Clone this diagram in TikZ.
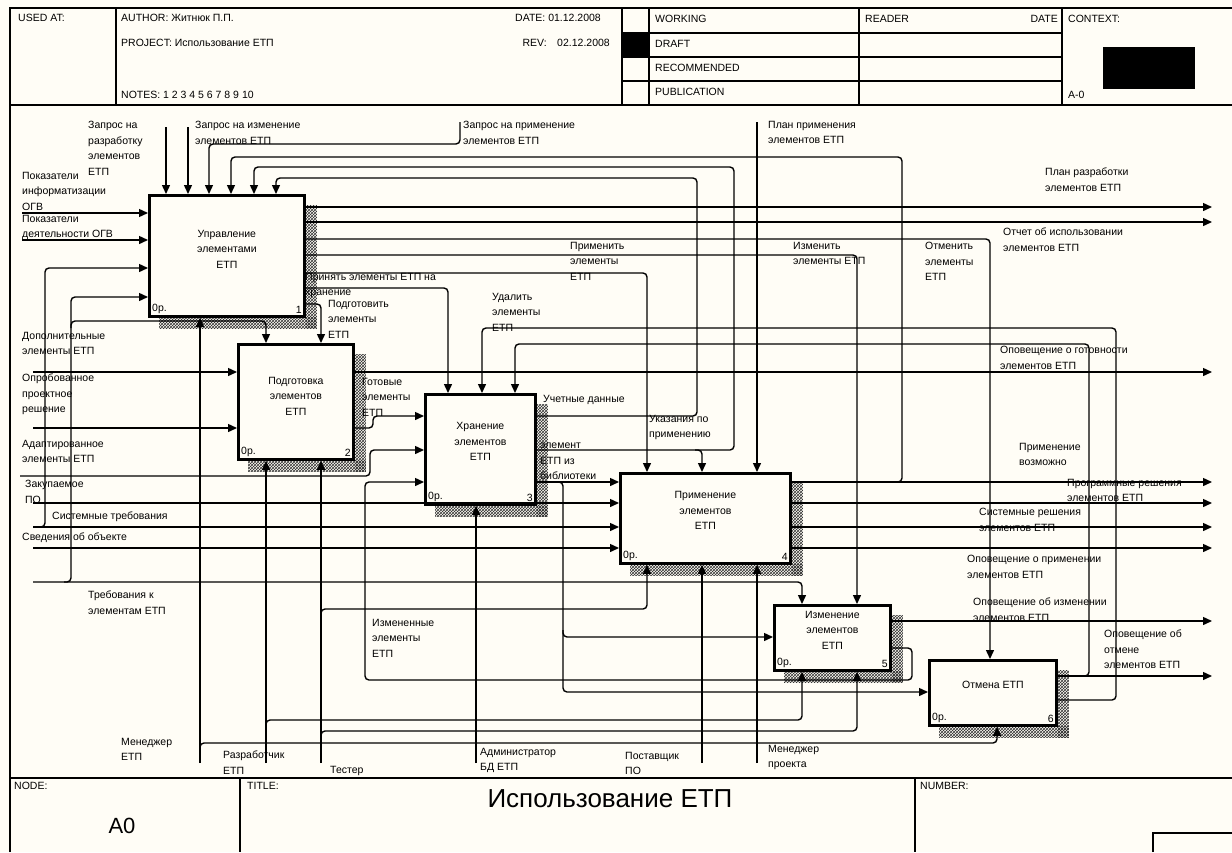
\documentclass[tikz,border=0pt]{standalone}
\usepackage{fontspec}
\setmainfont{Liberation Sans}
\usetikzlibrary{arrows.meta,patterns,calc,backgrounds}
\definecolor{sheet}{RGB}{255,253,246}
\newcommand\lblsize{\fontsize{10.5}{15.5}\selectfont}

\begin{document}
\begin{tikzpicture}[
  x=1pt, y=-1pt,
  >={Triangle[length=9pt,width=8pt]},
  func/.style={draw, line width=2.8pt, fill=sheet, anchor=north west, inner sep=0pt},
  functext/.style={align=center, inner sep=0pt, font=\lblsize},
  corner/.style={inner sep=4pt, font=\lblsize},
  lbl/.style={anchor=north west, align=left, inner sep=0pt, font=\lblsize},
  hdr/.style={anchor=west, inner sep=0pt, font=\fontsize{10.5}{12}\selectfont},
  frame/.style={line width=1.5pt},
  flow/.style={line width=1.4pt, rounded corners=4pt},
  arrow/.style={flow, ->},
  shade/.style={pattern=crosshatch, pattern color=black!80}
]
\useasboundingbox (0,0) rectangle (1232,852);

% form frame
\draw[frame] (10,852) -- (10,8) -- (1232,8);
\draw[frame] (10,105) -- (1232,105);
\draw[frame] (116,8) -- (116,105);
\draw[frame] (622,8) -- (622,105);
\draw[frame] (649,8) -- (649,105);
\draw[frame] (859,8) -- (859,105);
\draw[frame] (1062,8) -- (1062,105);
\foreach \yy in {33,57,81} \draw[frame] (622,\yy) -- (1062,\yy);
\fill (622,33) rectangle (649,57);
\fill (1103,47) rectangle (1195,89);
\draw[frame] (10,778) -- (1232,778);
\draw[frame] (240,778) -- (240,852);
\draw[frame] (915,778) -- (915,852);
\draw[frame] (1153,852) -- (1153,833) -- (1232,833);

\node[hdr] (usedat) at (18,18) {USED AT:};
\node[hdr] (author) at (121,18) {AUTHOR: Житнюк П.П.};
\node[hdr] (date) at (515,18) {DATE: 01.12.2008};
\node[hdr] (project) at (121,43) {PROJECT: Использование ЕТП};
\node[hdr, anchor=east] (rev) at (610,43) {REV:\quad 02.12.2008};
\node[hdr] (notes) at (121,95) {NOTES: 1 2 3 4 5 6 7 8 9 10};
\node[hdr] (working) at (655,19) {WORKING};
\node[hdr] (draft) at (655,44) {DRAFT};
\node[hdr] (recom) at (655,68) {RECOMMENDED};
\node[hdr] (public) at (655,92) {PUBLICATION};
\node[hdr] (reader) at (865,19) {READER};
\node[hdr, anchor=east] (rdate) at (1058,19) {DATE};
\node[hdr] (context) at (1068,19) {CONTEXT:};
\node[hdr] (ctxnode) at (1068,95) {A-0};
\node[hdr] (nodelbl) at (14,786) {NODE:};
\node[hdr] (titlelbl) at (247,786) {TITLE:};
\node[hdr] (numlbl) at (920,786) {NUMBER:};
\node[inner sep=0pt, font=\fontsize{22}{24}\selectfont] (nodeno) at (122,826) {A0};
\node[inner sep=0pt, font=\fontsize{26}{28}\selectfont] (title) at (610,799) {Использование ЕТП};

% activity boxes
\node[func, minimum width=155pt, minimum height=121pt] (b1) at (148,194) {};
\node[func, minimum width=115pt, minimum height=115pt] (b2) at (237,343) {};
\node[func, minimum width=110pt, minimum height=110pt] (b3) at (424,393) {};
\node[func, minimum width=170pt, minimum height=90pt] (b4) at (619,472) {};
\node[func, minimum width=116pt, minimum height=65pt] (b5) at (773,604) {};
\node[func, minimum width=127pt, minimum height=65pt] (b6) at (928,659) {};

\node[functext] (b1t) at ($(b1.center)+(0,-7)$) {Управление\\элементами\\ЕТП};
\node[functext] (b2t) at ($(b2.center)+(0,-6)$) {Подготовка\\элементов\\ЕТП};
\node[functext] (b3t) at ($(b3.center)+(0,-8)$) {Хранение\\элементов\\ЕТП};
\node[functext] (b4t) at ($(b4.center)+(0,-8)$) {Применение\\элементов\\ЕТП};
\node[functext] (b5t) at ($(b5.center)+(0,-8)$) {Изменение\\элементов\\ЕТП};
\node[functext] (b6t) at ($(b6.center)+(0,-8)$) {Отмена ЕТП};

\foreach \b/\n in {b1/1,b2/2,b3/3,b4/4,b5/5,b6/6}{
  \node[corner, anchor=south west] (\b o) at (\b.south west) {0р.};
  \node[corner, anchor=south east] (\b n) at (\b.south east) {\n};
}

\begin{scope}[on background layer]
  \fill[sheet] (0,0) rectangle (1232,852);
  \foreach \b in {b1,b2,b3,b4,b5,b6}{
    \fill[shade] ($(\b.north east)+(0,11)$) rectangle ($(\b.south east)+(11,11)$);
    \fill[shade] ($(\b.south west)+(11,0)$) rectangle ($(\b.south east)+(11,11)$);
  }
\end{scope}

% free ends of the boundary arrows
\foreach \n/\p in {c-req-dev/{166,127}, c-req-chg/{188,127}, c-req-use/{460,122}, c-plan-use/{757,122},
  i-inf/{22,213}, i-act/{22,240}, i-add/{33,372}, i-proj/{33,428}, i-adapt/{20,476},
  i-buy/{33,503}, i-sys/{33,527}, i-obj/{33,548}, i-req/{33,582},
  m-mgr/{200,763}, m-dev/{266,763}, m-test/{321,763}, m-dba/{476,763}, m-sup/{702,763}, m-pm/{757,763},
  o-plan/{1212,207}, o-rep/{1212,222}, o-ready/{1212,372}, o-ok/{1212,482}, o-prog/{1212,503},
  o-sysr/{1212,527}, o-use/{1212,548}, o-chg/{1212,621}, o-cancel/{1212,676}}
  \coordinate (\n) at (\p);

% controls
\draw[arrow] (c-req-dev) -- (c-req-dev |- b1.north);
\draw[arrow] (c-req-chg) -- (c-req-chg |- b1.north);
\draw[arrow] (c-req-use) -- (460,144) -- (209,144) -- (209,0 |- b1.north);
\draw[arrow] (c-plan-use) -- (c-plan-use |- b4.north);

% inputs
\draw[arrow] (i-inf) -- (b1.west |- i-inf);
\draw[arrow] (i-act) -- (b1.west |- i-act);
\draw[arrow] (i-add) -- (b2.west |- i-add);
\draw[arrow] (i-proj) -- (b2.west |- i-proj);
\draw[arrow] (i-adapt) -- (370,476) -- (370,450) -- (b3.west |- 0,450);
\draw[arrow] (i-buy) -- (b4.west |- i-buy);
\draw[arrow] (i-sys) -- (b4.west |- i-sys);
\draw[arrow] (38,527) -- (45,527) -- (45,268) -- (b1.west |- 0,268);
\draw[arrow] (i-obj) -- (b4.west |- i-obj);
\draw[arrow] (i-req) -- (802,582) -- (802,0 |- b5.north);
\draw[arrow] (64,582) -- (71,582) -- (71,297) -- (b1.west |- 0,297);
\draw[arrow] (71,328) -- (71,321) -- (266,321) -- (266,0 |- b2.north);

% mechanisms
\draw[arrow] (m-mgr) -- (m-mgr |- b1.south);
\draw[arrow] (200,750) -- (200,743) -- (997,743) -- (997,0 |- b6.south);
\draw[arrow] (m-dev) -- (m-dev |- b2.south);
\draw[arrow] (266,727) -- (266,720) -- (802,720) -- (802,0 |- b5.south);
\draw[arrow] (m-test) -- (m-test |- b2.south);
\draw[arrow] (321,616) -- (321,609) -- (647,609) -- (647,0 |- b4.south);
\draw[arrow] (321,738) -- (321,731) -- (857,731) -- (857,0 |- b5.south);
\draw[arrow] (m-dba) -- (m-dba |- b3.south);
\draw[arrow] (m-sup) -- (m-sup |- b4.south);
\draw[arrow] (m-pm) -- (m-pm |- b4.south);

% outputs of 1
\draw[arrow] (b1.east |- o-plan) -- (o-plan);
\draw[arrow] (b1.east |- o-rep) -- (o-rep);
\draw[arrow] (b1.east |- 0,239) -- (990,239) -- (990,0 |- b6.north);
\draw[arrow] (b1.east |- 0,255) -- (857,255) -- (857,0 |- b5.north);
\draw[arrow] (b1.east |- 0,273) -- (647,273) -- (647,0 |- b4.north);
\draw[arrow] (b1.east |- 0,288) -- (448,288) -- (448,0 |- b3.north);
\draw[arrow] (b1.east |- 0,304) -- (321,304) -- (321,0 |- b2.north);

% outputs of 2
\draw[arrow] (b2.east |- o-ready) -- (o-ready);
\draw[arrow] (b2.east |- 0,428) -- (373,428) -- (373,416) -- (b3.west |- 0,416);

% outputs of 3
\draw[arrow] (b3.east |- 0,416) -- (697,416) -- (697,178) -- (276,178) -- (276,0 |- b1.north);
\draw[arrow] (b3.east |- 0,450) -- (734,450) -- (734,167) -- (254,167) -- (254,0 |- b1.north);
\draw[arrow] (695,450) -- (702,450) -- (702,0 |- b4.north);
\draw[arrow] (b3.east |- 0,482) -- (b4.west |- 0,482);
\draw[arrow] (556,482) -- (563,482) -- (563,692) -- (b6.west |- 0,692);
\draw[arrow] (563,630) -- (563,637) -- (b5.west |- 0,637);

% outputs of 4
\draw[arrow] (b4.east |- o-ok) -- (o-ok);
\draw[arrow] (895,482) -- (902,482) -- (902,157) -- (231,157) -- (231,0 |- b1.north);
\draw[arrow] (b4.east |- o-prog) -- (o-prog);
\draw[arrow] (b4.east |- o-sysr) -- (o-sysr);
\draw[arrow] (b4.east |- o-use) -- (o-use);

% outputs of 5
\draw[arrow] (b5.east |- o-chg) -- (o-chg);
\draw[arrow] (b5.east |- 0,648) -- (912,648) -- (912,680) -- (365,680) -- (365,482) -- (b3.west |- 0,482);

% outputs of 6
\draw[arrow] (b6.east |- o-cancel) -- (o-cancel);
\draw[arrow] (1082,676) -- (1089,676) -- (1089,344) -- (515,344) -- (515,0 |- b3.north);
\draw[arrow] (b6.east |- 0,700) -- (1116,700) -- (1116,328) -- (482,328) -- (482,0 |- b3.north);

% arrow labels
\node[lbl] (l-req-dev) at (88,121) {Запрос на\\разработку\\элементов\\ЕТП};
\node[lbl] (l-req-chg) at (195,121) {Запрос на изменение\\элементов ЕТП};
\node[lbl] (l-req-use) at (463,121) {Запрос на применение\\элементов ЕТП};
\node[lbl] (l-plan-use) at (768,121) {План применения\\элементов ЕТП};
\node[lbl] (l-inf) at (22,172) {Показатели\\информатизации\\ОГВ};
\node[lbl] (l-act) at (22,215) {Показатели\\деятельности ОГВ};
\node[lbl] (l-plan) at (1045,168) {План разработки\\элементов ЕТП};
\node[lbl] (l-rep) at (1003,228) {Отчет об использовании\\элементов ЕТП};
\node[lbl] (l-apply) at (570,242) {Применить\\элементы\\ЕТП};
\node[lbl] (l-change) at (793,242) {Изменить\\элементы ЕТП};
\node[lbl] (l-cancel) at (925,242) {Отменить\\элементы\\ЕТП};
\node[lbl] (l-store) at (305,273) {Принять элементы ЕТП на\\хранение};
\node[lbl] (l-prep) at (328,300) {Подготовить\\элементы\\ЕТП};
\node[lbl] (l-del) at (492,293) {Удалить\\элементы\\ЕТП};
\node[lbl] (l-add) at (22,332) {Дополнительные\\элементы ЕТП};
\node[lbl] (l-proj) at (22,374) {Опробованное\\проектное\\решение};
\node[lbl] (l-adapt) at (22,440) {Адаптированное\\элементы ЕТП};
\node[lbl] (l-buy) at (25,480) {Закупаемое\\ПО};
\node[lbl] (l-sys) at (52,512) {Системные требования};
\node[lbl] (l-obj) at (22,533) {Сведения об объекте};
\node[lbl] (l-req) at (88,591) {Требования к\\элементам ЕТП};
\node[lbl] (l-ready) at (362,378) {Готовые\\элементы\\ЕТП};
\node[lbl] (l-acc) at (543,395) {Учетные данные};
\node[lbl] (l-hint) at (649,415) {Указания по\\применению};
\node[lbl] (l-lib) at (540,443) {элемент\\ЕТП из\\библиотеки};
\node[lbl] (l-notready) at (1000,346) {Оповещение о готовности\\элементов ЕТП};
\node[lbl] (l-ok) at (1019,443) {Применение\\возможно};
\node[lbl] (l-prog) at (1067,479) {Программные решения\\элементов ЕТП};
\node[lbl] (l-sysr) at (979,508) {Системные решения\\элементов ЕТП};
\node[lbl] (l-use) at (967,555) {Оповещение о применении\\элементов ЕТП};
\node[lbl] (l-mod) at (372,619) {Измененные\\элементы\\ЕТП};
\node[lbl] (l-chg) at (973,598) {Оповещение об изменении\\элементов ЕТП};
\node[lbl] (l-cnl) at (1104,630) {Оповещение об\\отмене\\элементов ЕТП};
\node[lbl] (l-mgr) at (121,738) {Менеджер\\ЕТП};
\node[lbl] (l-dev) at (223,751) {Разработчик\\ЕТП};
\node[lbl] (l-test) at (330,766) {Тестер};
\node[lbl] (l-dba) at (480,748) {Администратор\\БД ЕТП};
\node[lbl] (l-sup) at (625,752) {Поставщик\\ПО};
\node[lbl] (l-pm) at (768,745) {Менеджер\\проекта};
\end{tikzpicture}
\end{document}
